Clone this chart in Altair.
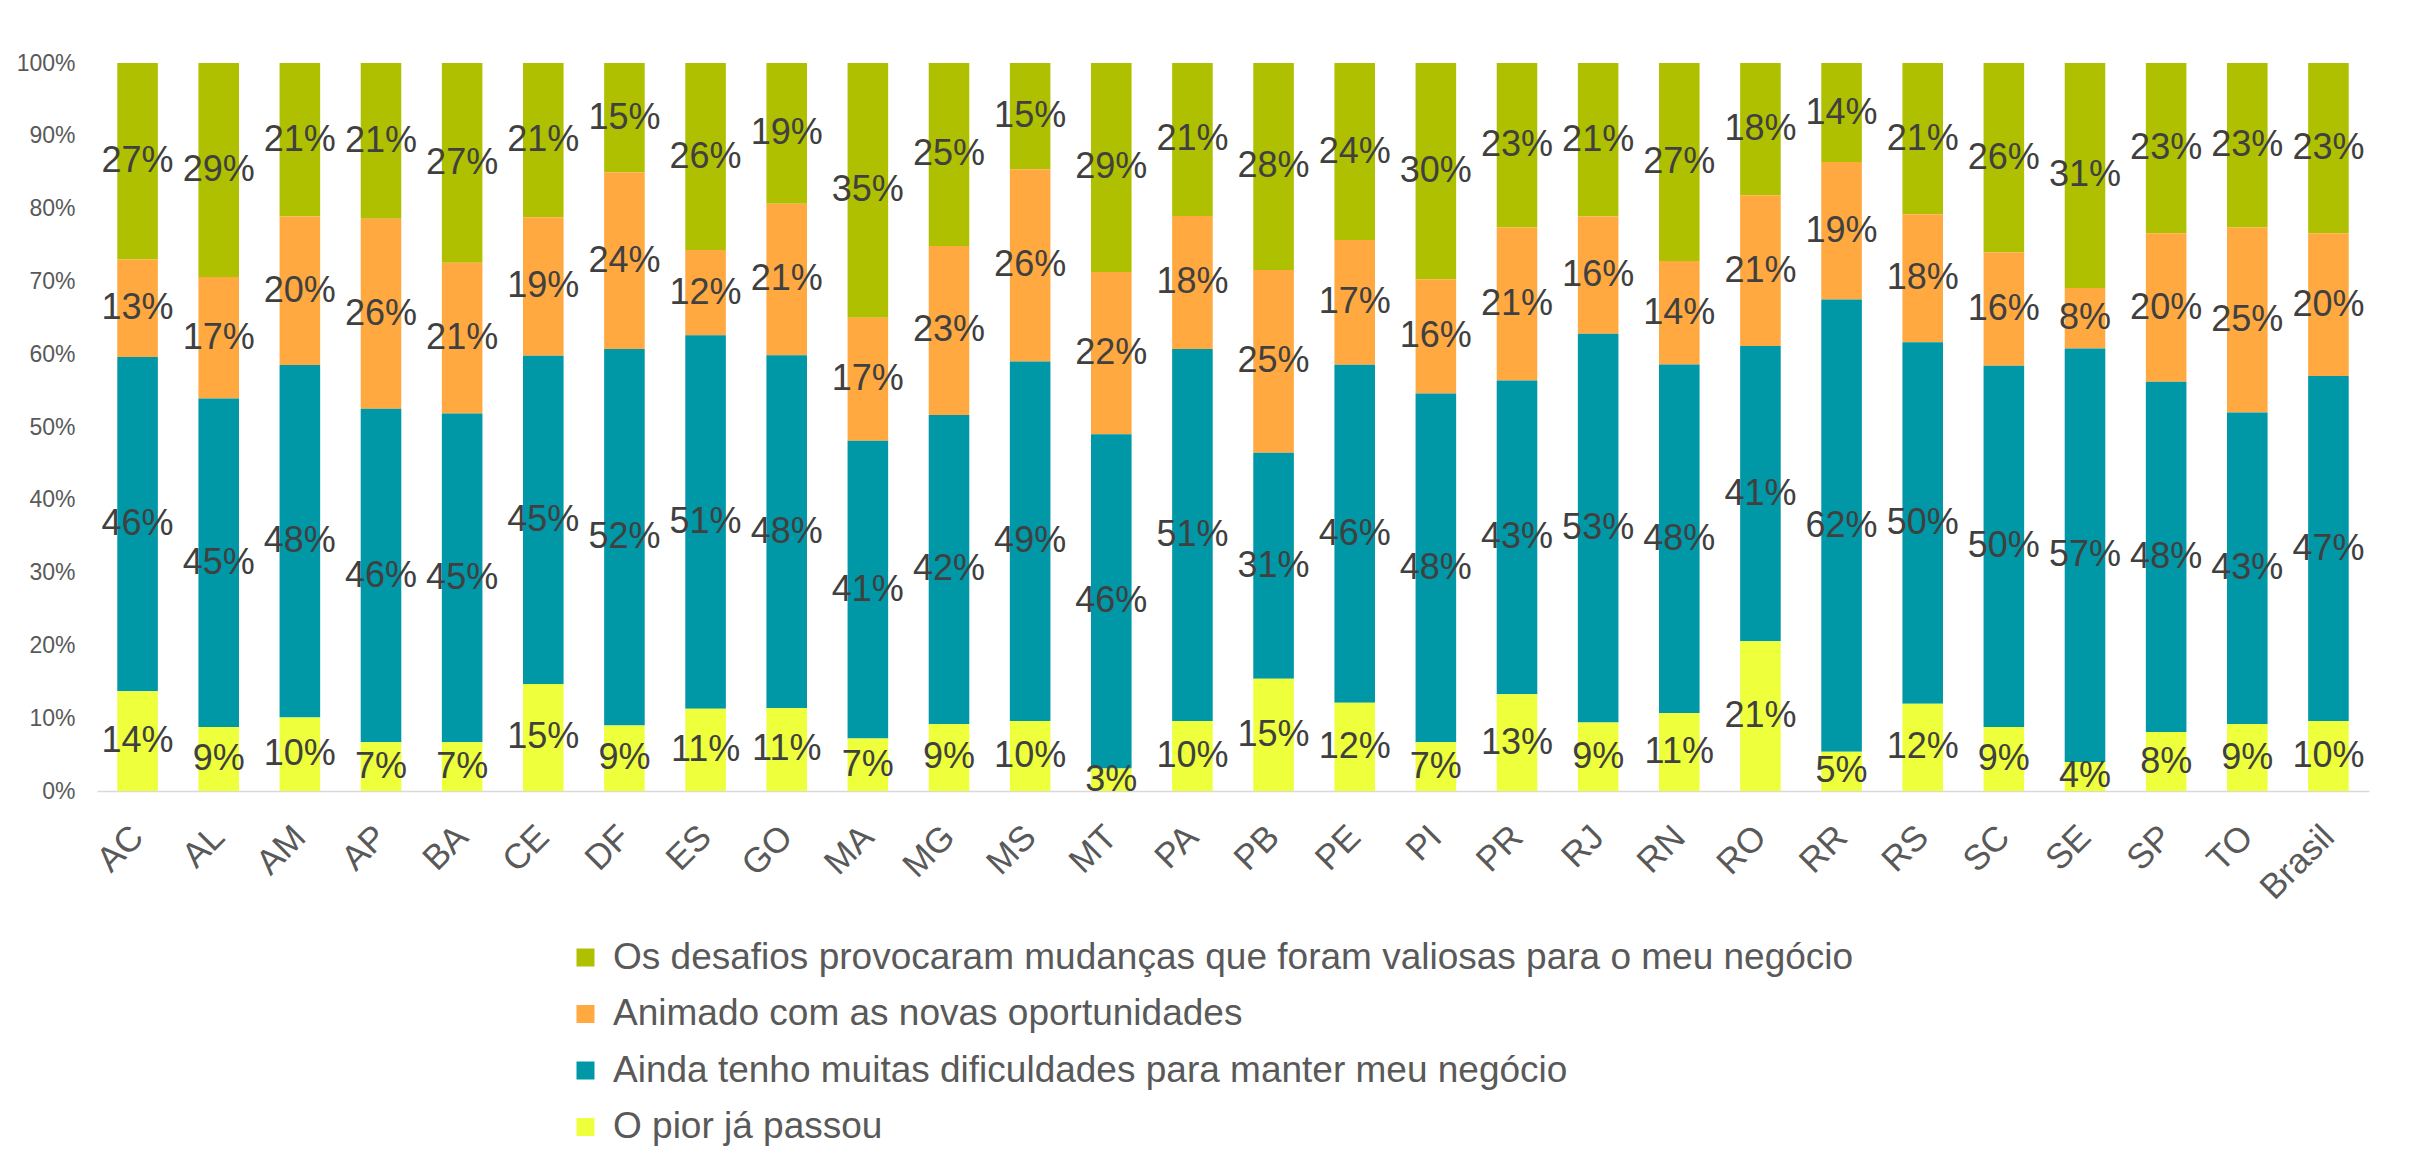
import altair as alt
import pandas as pd

estados = ["AC", "AL", "AM", "AP", "BA", "CE", "DF", "ES", "GO", "MA", "MG", "MS", "MT", "PA",
           "PB", "PE", "PI", "PR", "RJ", "RN", "RO", "RR", "RS", "SC", "SE", "SP", "TO", "Brasil"]

# percentages per series (bottom to top of each stack)
pior_ja_passou = [13.7, 8.8, 10.1, 6.7, 6.7, 14.7, 9.0, 11.3, 11.4, 7.2, 9.2, 9.6, 3.1, 9.6,
                  15.4, 12.1, 6.7, 13.3, 9.4, 10.7, 20.6, 5.4, 12.0, 8.8, 4.0, 8.1, 9.2, 9.6]
ainda_dificuldades = [45.9, 45.1, 48.4, 45.8, 45.1, 45.1, 51.7, 51.3, 48.4, 40.9, 42.4, 49.4, 45.9, 51.1,
                      31.0, 46.4, 47.9, 43.1, 53.4, 47.9, 40.6, 62.1, 49.7, 49.6, 56.8, 48.1, 42.8, 47.4]
animado = [13.4, 16.7, 20.4, 26.1, 20.7, 19.0, 24.3, 11.7, 20.8, 16.9, 23.2, 26.4, 22.3, 18.3,
           25.1, 17.1, 15.7, 21.0, 16.1, 14.2, 20.7, 18.9, 17.6, 15.6, 8.3, 20.4, 25.4, 19.6]
desafios = [27.0, 29.4, 21.1, 21.4, 27.4, 21.2, 15.0, 25.7, 19.3, 35.0, 25.1, 14.6, 28.7, 21.0,
            28.4, 24.3, 29.7, 22.6, 21.1, 27.2, 18.2, 13.6, 20.8, 26.0, 30.9, 23.4, 22.6, 23.4]

series = [
    "Os desafios provocaram mudanças que foram valiosas para o meu negócio",
    "Animado com as novas oportunidades",
    "Ainda tenho muitas dificuldades para manter meu negócio",
    "O pior já passou",
]
cores = ["#AFC000", "#FFA940", "#0097A7", "#EEFF3C"]
valores_por_serie = [desafios, animado, ainda_dificuldades, pior_ja_passou]
ordem_pilha = [3, 2, 1, 0]

linhas = []
for nome, vals, ordem in zip(series, valores_por_serie, ordem_pilha):
    for estado, v in zip(estados, vals):
        linhas.append({"estado": estado, "serie": nome, "valor": v, "ordem": ordem})
df = pd.DataFrame(linhas)

FONT = "Liberation Sans"

base = alt.Chart(df).transform_stack(
    stack="valor",
    groupby=["estado"],
    sort=[alt.SortField("ordem", order="ascending")],
    as_=["y0", "y1"],
    offset="normalize",
).transform_calculate(
    mid="(datum.y0 + datum.y1) / 2",
    rotulo="format(datum.valor / 100, '.0%')",
)

x_enc = alt.X(
    "estado:N",
    sort=estados,
    scale=alt.Scale(paddingInner=0.5, paddingOuter=0.25),
    axis=alt.Axis(
        title=None, labelAngle=-45, labelAlign="right", labelBaseline="middle",
        labelFontSize=35, labelFont=FONT, labelColor="#595959", labelPadding=40,
        ticks=False, domainColor="#D9D9D9", domainWidth=1.5, labelOverlap=False,
    ),
)

barras = base.mark_bar().encode(
    x=x_enc,
    y=alt.Y(
        "y0:Q",
        scale=alt.Scale(domain=[0, 1], nice=False),
        axis=alt.Axis(
            title=None, format=".0%", values=[i / 10 for i in range(11)], grid=False,
            domain=False, ticks=False, labelFontSize=23, labelFont=FONT,
            labelColor="#595959", labelPadding=22,
        ),
    ),
    y2="y1",
    color=alt.Color(
        "serie:N",
        scale=alt.Scale(domain=series, range=cores),
        legend=alt.Legend(
            orient="none", legendX=470, legendY=876, title=None, direction="vertical",
            symbolType="square", symbolSize=324, symbolStrokeWidth=0, symbolOpacity=1,
            labelFontSize=37, labelFont=FONT, labelColor="#595959", labelLimit=3000,
            rowPadding=18.5, labelOffset=9,
        ),
    ),
)

rotulos = base.mark_text(
    font=FONT, fontSize=36, color="#404040", baseline="middle", align="center"
).encode(
    x=alt.X("estado:N", sort=estados),
    y=alt.Y("mid:Q"),
    text="rotulo:N",
)

chart = alt.layer(barras, rotulos).properties(
    width=2272,
    height=728,
    padding={"left": 89, "top": 55, "right": 48, "bottom": 356},
    autosize=alt.AutoSizeParams(type="none"),
).configure_view(stroke=None)

chart.save("out.html", embed_options={"renderer": "svg", "actions": False})
